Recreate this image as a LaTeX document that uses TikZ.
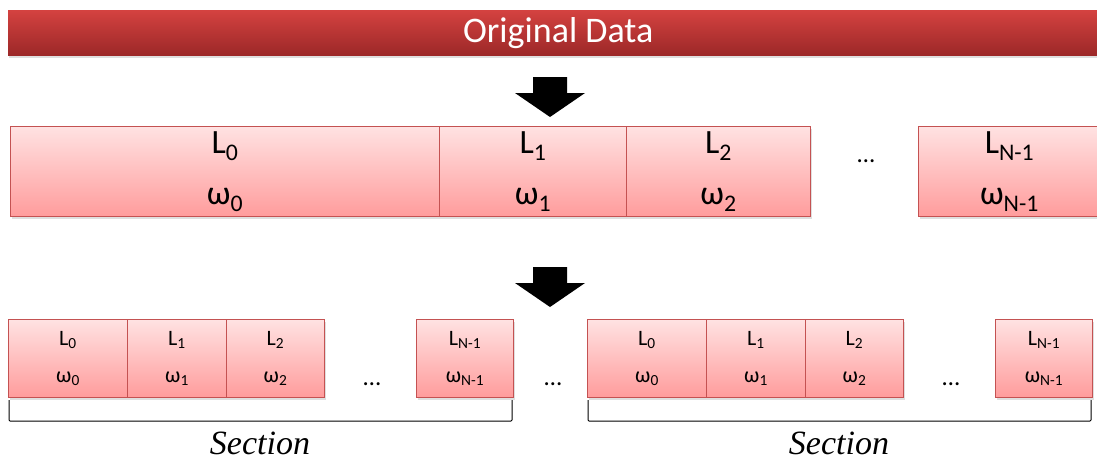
\documentclass[tikz,border=0pt]{standalone}
\usepackage{fontspec}
\setmainfont{Carlito}
\newfontfamily\secfont{Liberation Serif}
\usetikzlibrary{shadows,positioning}
\definecolor{barTop}{RGB}{212,66,64}
\definecolor{barBot}{RGB}{156,40,40}
\definecolor{cellTop}{RGB}{255,226,226}
\definecolor{cellBot}{RGB}{255,156,156}
\definecolor{cellLine}{RGB}{196,82,82}
\newcommand{\lsub}[1]{\textsubscript{#1}}

\begin{document}
\begin{tikzpicture}[x=1pt, y=-1pt,
    cell/.style={draw=cellLine, line width=1pt, top color=cellTop,
      bottom color=cellBot, inner sep=0pt, align=center, anchor=north west,
      drop shadow={shadow xshift=1.5pt, shadow yshift=-2pt, opacity=0.25}},
    bigcell/.style={cell, minimum height=90pt, font=\fontsize{34}{51}\selectfont},
    smallcell/.style={cell, minimum height=78pt, font=\fontsize{22}{37}\selectfont},
    dots/.style={font=\fontsize{25}{28}\selectfont},
    section/.style={font=\secfont\itshape\fontsize{34}{36}\selectfont,
      inner sep=0pt, anchor=base},
    bracket/.style={draw=black, line width=1pt, rounded corners=1pt},
    topbar/.style={top color=barTop, bottom color=barBot, text=white,
      anchor=north west, minimum width=1100pt, minimum height=45pt,
      font=\fontsize{36}{40}\selectfont,
      drop shadow={shadow xshift=1pt, shadow yshift=-3pt, opacity=0.25}}]
  \useasboundingbox (0,0) rectangle (1097,461);
  \clip (0,0) rectangle (1097,461);

  % Original data bar
  \node[topbar] (orig) at (8,10) {Original Data};

  % Block arrows
  \coordinate (tip1) at (550,117);
  \coordinate (tip2) at (550,307);
  \foreach \t in {tip1,tip2}
    \fill (\t) -- ++(-35,-24) -- ++(18,0) -- ++(0,-16) -- ++(34,0)
      -- ++(0,16) -- ++(18,0) -- cycle;

  % Partitions of the data
  \node[bigcell, minimum width=429pt] (r0) at (10,126) {L\lsub{0}\\ω\lsub{0}};
  \node[bigcell, minimum width=187pt] (r1) at (439,126) {L\lsub{1}\\ω\lsub{1}};
  \node[bigcell, minimum width=184pt] (r2) at (626,126) {L\lsub{2}\\ω\lsub{2}};
  \node[dots] (rdot) at (866,161) {…};
  \node[bigcell, minimum width=182pt] (r3) at (918,126) {L\lsub{N-1}\\ω\lsub{N-1}};

  % Sections
  \foreach \s/\dx in {a/0, b/579} {
    \node[smallcell, minimum width=119pt] (\s0) at (8+\dx,319) {L\lsub{0}\\ω\lsub{0}};
    \node[smallcell, minimum width=99pt] (\s1) at (127+\dx,319) {L\lsub{1}\\ω\lsub{1}};
    \node[smallcell, minimum width=98pt] (\s2) at (226+\dx,319) {L\lsub{2}\\ω\lsub{2}};
    \node[dots] (\s dot) at (372+\dx,384) {…};
    \node[smallcell, minimum width=97pt] (\s3) at (416+\dx,319) {L\lsub{N-1}\\ω\lsub{N-1}};
    \draw[bracket] ([xshift=1pt,yshift=-2pt]\s0.south west) -- ++(0,21)
      -| ([xshift=-2pt,yshift=-2pt]\s3.south east);
    \node[section] (\s sec) at (260+\dx,454) {Section};
  }
  \node[dots] (mdot) at (553,384) {…};
\end{tikzpicture}
\end{document}
